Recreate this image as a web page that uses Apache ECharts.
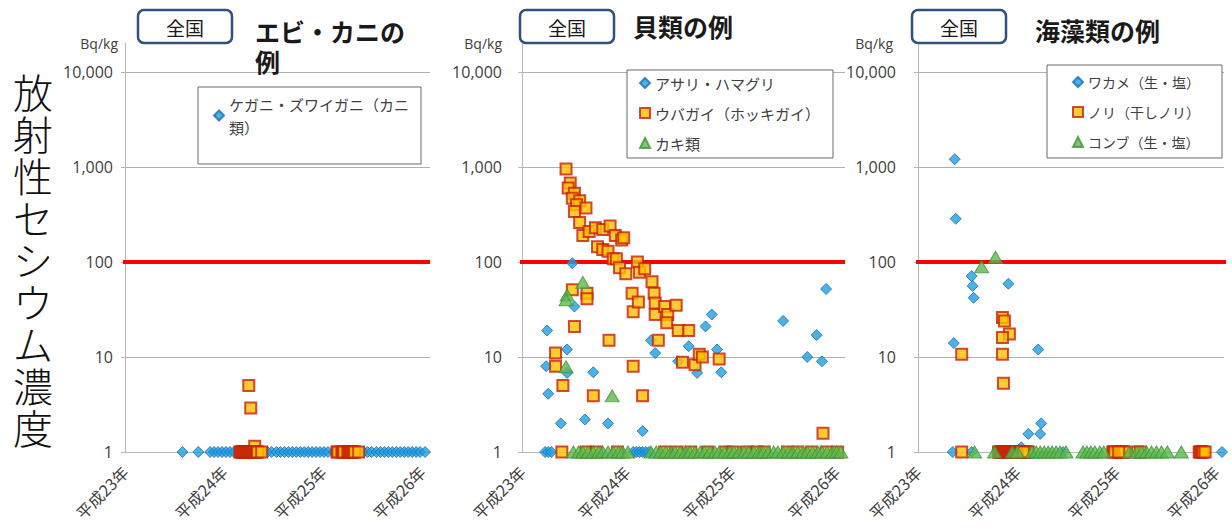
<!DOCTYPE html>
<html>
<head>
<meta charset="utf-8">
<script src="https://cdn.jsdelivr.net/npm/echarts@6/dist/echarts.min.js"></script>
<style>
  html, body { margin: 0; padding: 0; background: #ffffff; }
  #chart { width: 1232px; height: 528px; }
</style>
</head>
<body>
<div id="chart"></div>
<script>
// ---- axis ticks and labels ----
const xTicks = [23, 24, 25, 26];
const xTickLabels = ['平成23年', '平成24年', '平成25年', '平成26年'];
const yTicks = [1, 10, 100, 1000, 10000];
const yTickLabels = ['1', '10', '100', '1,000', '10,000'];
const limitValue = 100;            // 基準値 (Bq/kg)

// ---- エビ・カニ (x: 平成 year, y: Bq/kg; y = 1 means plotted at the floor) ----
const kaniPoints = [];
const kaniFloorX = [23.58, 23.74, 23.86, 23.90, 23.94, 23.98, 24.02, 24.06, 24.10, 24.16, 24.22, 24.28,
  24.34, 24.40, 24.44, 24.48, 24.53, 24.57, 24.61, 24.65, 24.69, 24.73, 24.77, 24.81, 24.85, 24.89,
  24.93, 24.97, 25.01, 25.05, 25.11, 25.17, 25.23, 25.29, 25.35, 25.41, 25.45, 25.49, 25.54, 25.58,
  25.62, 25.66, 25.70, 25.74, 25.78, 25.82, 25.86, 25.90, 25.94, 25.98, 26.03];
const ebiPoints = [[24.25, 5], [24.27, 2.9], [24.31, 1.15]];
const ebiFloorX = [24.16, 24.17, 24.18, 24.19, 24.20, 24.21, 24.22, 24.23, 24.24, 24.25, 24.26,
  24.27, 24.28, 24.29, 24.30, 24.31, 24.32, 24.33, 24.34, 24.38,
  25.14, 25.15, 25.19, 25.20, 25.21, 25.25, 25.26, 25.27, 25.28, 25.29, 25.30, 25.31, 25.32, 25.36];

// ---- 貝類 ----
const asariPoints = [[23.48, 97], [23.50, 34], [23.24, 19], [23.43, 12], [23.23, 8], [23.43, 6.8],
  [23.68, 6.9], [23.25, 4.1], [23.37, 2.0], [23.60, 2.2], [23.82, 2.0], [24.15, 1.66], [24.23, 15],
  [24.27, 11], [24.49, 9], [24.59, 13], [24.67, 6.8], [24.75, 21], [24.81, 28], [24.86, 12],
  [24.90, 6.9], [25.49, 24], [25.72, 10], [25.81, 17], [25.86, 9], [25.90, 52]];
const asariFloorX = [23.22, 23.25, 23.28, 24.06, 24.09, 24.12, 24.15, 24.18, 24.21];
const hokkiPoints = [[23.42, 950], [23.46, 680], [23.44, 600], [23.50, 530], [23.48, 470],
  [23.55, 440], [23.52, 400], [23.61, 370], [23.50, 340], [23.55, 260], [23.58, 190], [23.64, 210],
  [23.70, 230], [23.77, 220], [23.84, 240], [23.89, 190], [23.95, 170], [23.97, 180], [23.72, 145],
  [23.77, 135], [23.82, 130], [23.87, 108], [23.90, 108], [23.93, 87], [23.99, 75], [24.10, 100],
  [24.12, 78], [24.17, 85], [24.24, 62], [24.05, 47], [24.26, 47], [24.06, 30], [24.11, 38],
  [24.27, 37], [24.27, 28], [24.36, 34], [24.39, 28], [24.38, 23], [24.47, 35], [24.49, 19],
  [24.59, 19], [23.83, 15], [24.30, 15], [23.50, 21], [23.48, 51], [23.62, 47], [23.62, 41],
  [23.32, 11], [23.32, 8], [23.39, 5], [23.68, 3.9], [24.15, 3.9], [24.06, 8], [24.53, 8.8],
  [24.65, 8.3], [24.69, 10.7], [24.72, 10], [24.88, 9.5], [25.87, 1.58]];
const hokkiFloorX = [23.61, 23.71, 23.91, 24.36, 24.48, 24.61, 24.77, 24.94, 25.01, 25.14, 25.24,
  25.31, 25.53, 25.63, 25.76, 25.90, 26.01, 23.38];
const kakiPoints = [[23.43, 45], [23.42, 40], [23.58, 61], [23.42, 7.9], [23.86, 3.9]];
const kakiFloorX = [23.49, 23.54, 23.58, 23.63, 23.68, 23.73, 23.77, 23.82, 23.87, 23.92, 23.96, 24.01,
  24.23, 24.28, 24.32, 24.37, 24.42, 24.46, 24.51, 24.56, 24.60, 24.65, 24.70, 24.74, 24.79, 24.84,
  24.88, 24.93, 24.98, 25.02, 25.07, 25.12, 25.16, 25.21, 25.26, 25.30, 25.35, 25.40, 25.44, 25.49,
  25.54, 25.58, 25.63, 25.68, 25.72, 25.77, 25.82, 25.86, 25.91, 25.96, 26.00, 26.04];

// ---- 海藻類 ----
const wakamePoints = [[23.37, 1210], [23.38, 285], [23.54, 71], [23.55, 56], [23.56, 42], [23.91, 59],
  [23.36, 14], [24.21, 12], [24.11, 1.55], [24.24, 2.0], [24.23, 1.55], [24.04, 1.12]];
const wakameFloorX = [23.35, 23.54, 24.46, 26.06];
const noriPoints = [[23.85, 26], [23.87, 24], [23.92, 17.5], [23.85, 16], [23.44, 10.7],
  [23.85, 10.7], [23.86, 5.3]];
const noriFloorX = [23.44,
  23.81, 23.82, 23.83, 23.84, 23.85, 23.86, 23.87, 23.88, 23.89, 23.90, 23.91, 23.92, 23.93, 23.94,
  23.95, 23.96, 23.97, 23.98, 23.99, 24.00, 24.01, 24.02, 24.03, 24.04, 24.08, 24.09, 24.10, 24.11, 24.06,
  24.96, 24.97, 24.98, 25.04, 25.05, 25.06, 25.07, 25.08, 25.02,
  25.21, 25.24,
  25.83, 25.84, 25.85, 25.86, 25.87, 25.89];
const konbuPoints = [[23.64, 89], [23.78, 112]];
const konbuFloorX = [23.57, 23.77, 23.95, 24.00, 24.15, 24.19, 24.23, 24.27, 24.31, 24.35, 24.39,
  24.43, 24.49, 24.66, 24.70, 24.74, 24.78, 24.83, 24.87, 25.13, 25.20, 25.25, 25.30, 25.35, 25.40,
  25.45, 25.51, 25.65];

// extent of the 基準値 line in each panel
const limitSpan = [[22.95, 26.08], [22.96, 26.08], [22.92, 26.17]];

const withFloor = (pts, floorX) => pts.concat(floorX.map(x => [x, 1]));

const JP = "'Noto Sans CJK JP', sans-serif";
const NUM = "'Open Sans', 'Liberation Sans', sans-serif";

const marker = {
  diamond: { symbol: 'diamond', symbolSize: 11,
    itemStyle: { color: '#1e9fe2', borderColor: '#1b6db5', borderWidth: 1 } },
  square: { symbol: 'rect', symbolSize: 11,
    itemStyle: { color: '#ffc000', borderColor: '#c81e0a', borderWidth: 2 } },
  triangle: { symbol: 'triangle', symbolSize: [14, 12],
    itemStyle: { color: '#5cb84f', borderColor: '#3d9636', borderWidth: 1 } }
};

function scatter(name, gi, data, kind) {
  return Object.assign({ type: 'scatter', name, xAxisIndex: gi, yAxisIndex: gi, data,
    emphasis: { disabled: true }, z: 3 }, marker[kind]);
}
function limitLine(gi) {
  return { type: 'line', name: '基準値' + (gi + 1), xAxisIndex: gi, yAxisIndex: gi, clip: false,
    symbol: 'none', silent: true, z: 2,
    lineStyle: { color: '#ff0000', width: 4 },
    data: [[limitSpan[gi][0], limitValue], [limitSpan[gi][1], limitValue]] };
}

const grids = [
  { left: 125, top: 72, width: 305, height: 380, outerBoundsMode: 'none' },
  { left: 522, top: 72, width: 323, height: 380, outerBoundsMode: 'none' },
  { left: 918, top: 72, width: 306, height: 380, outerBoundsMode: 'none' }
];
const yLabelMargin = [12, 20, 22];
const unitPad = [7, 20, 25];

const xAxes = grids.map((g, i) => ({
  type: 'value', gridIndex: i, min: 23, max: 26.08, interval: 1,
  axisLine: { show: true, lineStyle: { color: '#b8b8b8' } },
  axisTick: { show: false }, splitLine: { show: false },
  axisLabel: { rotate: 45, margin: 17, fontSize: 16, color: '#404040', fontFamily: JP,
    showMaxLabel: false,
    formatter: v => { const k = xTicks.indexOf(Math.round(v * 100) / 100); return k >= 0 ? xTickLabels[k] : ''; } }
}));
const yAxes = grids.map((g, i) => ({
  type: 'log', logBase: 10, gridIndex: i, min: 1, max: 10000,
  name: 'Bq/kg', nameLocation: 'end', nameGap: 29,
  nameTextStyle: { fontSize: 14, color: '#404040', fontFamily: NUM, align: 'right',
    verticalAlign: 'middle', padding: [0, unitPad[i], 0, 0] },
  axisLine: { show: true, lineStyle: { color: '#b8b8b8' } },
  axisTick: { show: true, length: 4, lineStyle: { color: '#b8b8b8' } },
  splitLine: { show: true, lineStyle: { color: '#b0b0b0' } },
  axisLabel: { margin: yLabelMargin[i], fontSize: 16, color: '#404040', fontFamily: NUM,
    formatter: v => { const k = yTicks.indexOf(Math.round(v)); return k >= 0 ? yTickLabels[k] : ''; } }
}));

const legendBase = { orient: 'vertical', padding: 0, itemWidth: 10, itemHeight: 10,
  selectedMode: false, z: 6 };
const legends = [
  Object.assign({}, legendBase, { data: ['ケガニ・ズワイガニ（カニ類）'], left: 213, top: 81,
    formatter: () => 'ケガニ・ズワイガニ（カニ\n類）',
    textStyle: { fontSize: 15, lineHeight: 23, color: '#404040', fontFamily: JP, padding: [23, 0, 0, 0] } }),
  Object.assign({}, legendBase, { data: ['アサリ・ハマグリ', 'ウバガイ（ホッキガイ）', 'カキ類'],
    left: 639, top: 74, itemGap: 12,
    textStyle: { fontSize: 15, lineHeight: 18, color: '#404040', fontFamily: JP } }),
  Object.assign({}, legendBase, { data: ['ワカメ（生・塩）', 'ノリ（干しノリ）', 'コンブ（生・塩）'],
    left: 1072, top: 73, itemGap: 12,
    textStyle: { fontSize: 14, lineHeight: 18, color: '#404040', fontFamily: JP } })
];

// header boxes, panel titles, legend frames, axis stubs
const headerBoxes = [138, 520, 912];
const panelTitles = [
  { text: 'エビ・カニの\n例', x: 255, y: 16 },
  { text: '貝類の例', x: 633, y: 11 },
  { text: '海藻類の例', x: 1035, y: 15 }
];
const legendFrames = [
  { x: 198, y: 87, width: 223, height: 77 },
  { x: 627, y: 70, width: 206, height: 88 },
  { x: 1047, y: 65, width: 175, height: 93 }
];
const sideTitle = ['放', '射', '性', 'セ', 'シ', 'ウ', 'ム', '濃', '度'];

const graphics = [];
headerBoxes.forEach(x => {
  graphics.push({ type: 'rect', z: 5, shape: { x: x, y: 10, width: 94, height: 33, r: 6 },
    style: { fill: '#ffffff', stroke: '#30507f', lineWidth: 2.5 } });
  graphics.push({ type: 'text', z: 6, x: x + 47, y: 27,
    style: { text: '全国', font: "19px 'Noto Sans CJK JP'", fill: '#1a1a1a', align: 'center', verticalAlign: 'middle' } });
});
panelTitles.forEach(t => graphics.push({ type: 'text', z: 6, x: t.x, y: t.y,
  style: { text: t.text, font: "bold 25px 'Noto Sans CJK JP'", lineHeight: 30, fill: '#1a1a1a' } }));
legendFrames.forEach(f => graphics.push({ type: 'rect', z: 5, shape: f,
  style: { fill: '#ffffff', stroke: '#6a6a6a', lineWidth: 1 } }));
grids.forEach(g => graphics.push({ type: 'line', z: 1,
  shape: { x1: g.left + 0.5, y1: 43, x2: g.left + 0.5, y2: 72 },
  style: { stroke: '#b8b8b8', lineWidth: 1 } }));
// vertical axis title, one character per row
sideTitle.forEach((ch, k) => graphics.push({ type: 'text', z: 6, x: 33, y: 91 + k * 42,
  style: { text: ch, font: "300 40px 'Noto Sans CJK JP'", fill: '#111111',
    align: 'center', verticalAlign: 'middle' } }));

const option = {
  animation: false,
  backgroundColor: '#ffffff',
  grid: grids,
  xAxis: xAxes,
  yAxis: yAxes,
  legend: legends,
  graphic: graphics,
  series: [
    limitLine(0),
    scatter('ケガニ・ズワイガニ（カニ類）', 0, withFloor(kaniPoints, kaniFloorX), 'diamond'),
    scatter('エビ類', 0, withFloor(ebiPoints, ebiFloorX), 'square'),
    limitLine(1),
    scatter('アサリ・ハマグリ', 1, withFloor(asariPoints, asariFloorX), 'diamond'),
    scatter('ウバガイ（ホッキガイ）', 1, withFloor(hokkiPoints, hokkiFloorX), 'square'),
    scatter('カキ類', 1, withFloor(kakiPoints, kakiFloorX), 'triangle'),
    limitLine(2),
    scatter('ワカメ（生・塩）', 2, withFloor(wakamePoints, wakameFloorX), 'diamond'),
    scatter('ノリ（干しノリ）', 2, withFloor(noriPoints, noriFloorX), 'square'),
    scatter('コンブ（生・塩）', 2, withFloor(konbuPoints, konbuFloorX), 'triangle')
  ]
};

const chart = echarts.init(document.getElementById('chart'), null, { renderer: 'svg' });
chart.setOption(option);
</script>
</body>
</html>
